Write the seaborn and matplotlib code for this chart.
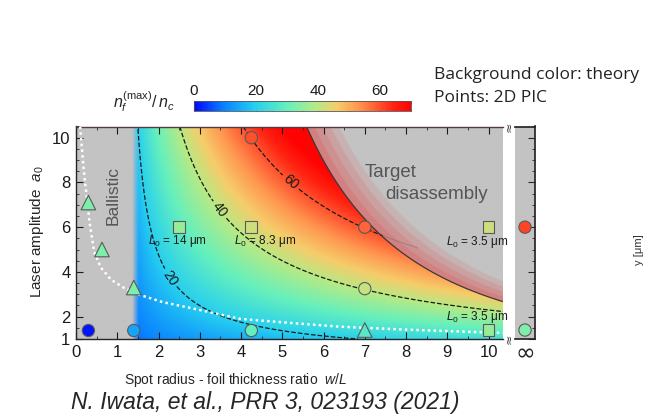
import numpy as np
import matplotlib
matplotlib.use("Agg")
import matplotlib.pyplot as plt
import seaborn as sns
from matplotlib.colors import LinearSegmentedColormap, Normalize, to_rgb
from matplotlib.cm import ScalarMappable
from matplotlib.ticker import MultipleLocator, FixedLocator

# ---- theory model for the background: n_f^max/n_c = A a0^alpha (w/L - x0)^beta + c
THEORY_A = 4.926
THEORY_ALPHA = 0.75
THEORY_BETA = 0.60
THEORY_X0 = 1.2
THEORY_C = 6.1
BALLISTIC_EDGE = 1.5          # w/L below which the foil is ballistic
DISASSEMBLY_K = 16.1          # (w/L) * a0^p above which the target disassembles
DISASSEMBLY_P = 0.45
CONTOUR_LEVELS = [20, 40, 60]
CONTOUR_LABEL_POS = [(2.5, 4.0), (3.5, 6.8), (5.2, 8.0)]

# ---- 2D PIC results (w/L, a0, n_f^max/n_c)
circle_wl = [0.3, 1.4, 4.25, 7.0, 7.0, 4.25]
circle_a0 = [1.38, 1.38, 1.38, 3.25, 6.0, 10.0]
circle_n = [1, 14, 30, 41, 58, 60]
triangle_wl = [0.3, 0.63, 1.4, 7.0]
triangle_a0 = [7.1, 5.0, 3.3, 1.4]
triangle_n = [33, 33, 33, 28]
square_wl = [2.5, 4.25, 10.0, 10.0]
square_a0 = [6.0, 6.0, 6.0, 1.4]
square_n = [36, 42, 42, 36]
inf_a0 = [6.0, 1.4]
inf_n = [61, 33]

# ---- white dotted boundary curve
dot_wl = [0.10, 0.19, 0.33, 0.44, 0.60, 0.85, 1.15, 1.55, 2.1, 2.77, 3.98, 5.19, 6.4, 8.0, 10.35]
dot_a0 = [10.5, 8.5, 6.2, 4.9, 4.2, 3.65, 3.3, 2.97, 2.65, 2.39, 1.9, 1.72, 1.55, 1.42, 1.27]

# ---- annotations
thickness_labels = [r"$L_0$ = 14 μm", r"$L_0$ = 8.3 μm", r"$L_0$ = 3.5 μm", r"$L_0$ = 3.5 μm"]
thickness_wl = [2.45, 4.58, 9.72, 9.72]
thickness_a0 = [5.4, 5.4, 5.35, 2.0]

XTICKS = list(range(0, 11))
YTICKS = [1, 2, 4, 6, 8, 10]
CBAR_TICKS = [0, 20, 40, 60]
N_MAX = 70

sns.set_theme(style="ticks")
plt.rcParams["font.family"] = ["Liberation Sans", "DejaVu Sans"]
plt.rcParams["mathtext.fontset"] = "custom"
plt.rcParams["mathtext.it"] = "Liberation Sans:italic"
plt.rcParams["mathtext.rm"] = "Liberation Sans"

cmap = LinearSegmentedColormap.from_list("theory", [
    (0.00, "#0008ff"), (0.14, "#0a84ff"), (0.28, "#26cff0"), (0.43, "#66f0bc"),
    (0.56, "#b4ea86"), (0.66, "#f6cc6a"), (0.76, "#ff9650"), (0.85, "#ff5630"),
    (0.92, "#ff2412"), (1.00, "#ff0202")])
norm = Normalize(0, N_MAX)
GREY = np.array(to_rgb("#c3c3c3"))


def theory(wl, a0):
    return THEORY_A * a0 ** THEORY_ALPHA * np.clip(wl - THEORY_X0, 0, None) ** THEORY_BETA + THEORY_C


fig = plt.figure(figsize=(6.49, 4.2), dpi=100)
W, H = 649, 420
ax = fig.add_axes([76 / W, 1 - 339 / H, (503 - 76) / W, (339 - 126.5) / H])
ax_inf = fig.add_axes([515 / W, 1 - 339 / H, 20 / W, (339 - 126.5) / H])
cax = fig.add_axes([194 / W, 1 - 111 / H, 217 / W, 10.3 / H])

XLIM = (0, 10.35)
YLIM = (1, 10.5)

# background field
xs = np.linspace(*XLIM, 800)
ys = np.linspace(*YLIM, 500)
X, Y = np.meshgrid(xs, ys)
N = theory(X, Y)
S = X * Y ** DISASSEMBLY_P
rgb = cmap(norm(N))[..., :3]
t = np.clip((X - 1.36) / 0.16, 0, 1)[..., None]
rgb = GREY * (1 - t) + rgb * t
u = S / DISASSEMBLY_K - 1
tint = np.clip(1 - u / 0.14, 0, 1)
tint = np.ceil(tint * 4) / 4 * 0.55
tint = np.where(u > 0, tint, 0)[..., None]
dis = (u > 0)[..., None]
pink = np.array(to_rgb("#e04a4a"))
rgb = np.where(dis, GREY * (1 - tint) + pink * tint, rgb)
ax.imshow(rgb, extent=(*XLIM, *YLIM), origin="lower", aspect="auto", interpolation="bilinear", zorder=0)

# contour lines of the theory
Nm = np.ma.masked_where((X < BALLISTIC_EDGE) | (S > DISASSEMBLY_K * 1.005), N)
cs = ax.contour(X, Y, Nm, levels=CONTOUR_LEVELS, colors="#1a1a1a", linestyles="--", linewidths=0.9, zorder=2)
ax.clabel(cs, fmt="%d", fontsize=10, inline=True, inline_spacing=3, manual=CONTOUR_LABEL_POS)
# faint continuation of the top level past the disassembly limit
Nf = np.ma.masked_where((S <= DISASSEMBLY_K) | (X > 8.3), N)
ax.contour(X, Y, Nf, levels=[CONTOUR_LEVELS[-1]], colors="#707070", linewidths=0.8, alpha=0.45, zorder=2)
ax.contour(X, Y, S, levels=[DISASSEMBLY_K], colors="#3a3a3a", linewidths=0.9, zorder=2)

# white dotted curve
sns.lineplot(x=dot_wl, y=dot_a0, sort=False, estimator=None, color="white",
             linewidth=1.8, linestyle=(0, (1, 1.3)), ax=ax, zorder=3)

# PIC points
common = dict(hue_norm=norm, palette=cmap, edgecolor="#5a5a5a", linewidth=0.8, legend=False, zorder=5)
sns.scatterplot(x=circle_wl, y=circle_a0, hue=circle_n, marker="o", s=78, ax=ax, **common)
sns.scatterplot(x=triangle_wl, y=triangle_a0, hue=triangle_n, marker="^", s=110, ax=ax, **common)
sns.scatterplot(x=square_wl, y=square_a0, hue=square_n, marker="s", s=72, ax=ax, **common)
sns.scatterplot(x=[0.5] * len(inf_a0), y=inf_a0, hue=inf_n, marker="o", s=78, ax=ax_inf, **common)

for lab, xw, ya in zip(thickness_labels, thickness_wl, thickness_a0):
    ax.text(xw, ya, lab, ha="center", va="center", fontsize=8.5, color="#1a1a1a", zorder=6)

ax.text(0.9, 7.4, "Ballistic", rotation=90, ha="center", va="center", fontsize=12.5,
        color="#555555", zorder=6)
ax.text(7.0, 8.45, "Target", ha="left", va="center", fontsize=13.5, color="#555555", zorder=6)
ax.text(7.49, 7.45, "disassembly", ha="left", va="center", fontsize=13.5, color="#555555", zorder=6)

# main axes styling
ax.set_xlim(*XLIM)
ax.set_ylim(*YLIM)
ax.xaxis.set_major_locator(FixedLocator(XTICKS))
ax.yaxis.set_major_locator(FixedLocator(YTICKS))
ax.xaxis.set_minor_locator(MultipleLocator(0.5))
ax.yaxis.set_minor_locator(MultipleLocator(0.5))
ax.tick_params(which="major", direction="in", length=5, width=0.8, top=True, right=False,
               labelsize=12, colors="#1a1a1a", pad=4)
ax.tick_params(which="minor", direction="in", length=2.5, width=0.6, top=True, right=False)
ax.spines["right"].set_visible(False)
ax.spines["top"].set_color("#5a3a3a")
for sp in ("left", "bottom", "top"):
    ax.spines[sp].set_linewidth(1.0)
ax.set_xlabel("")
ax.set_ylabel("")

# infinity panel
ax_inf.set_facecolor(GREY)
ax_inf.set_xlim(0, 1)
ax_inf.set_ylim(*YLIM)
ax_inf.set_xticks([0.5])
ax_inf.set_xticklabels(["∞"], fontsize=17, family=["DejaVu Sans"])
ax_inf.tick_params(axis="x", length=0, pad=2)
ax_inf.yaxis.set_major_locator(FixedLocator(YTICKS))
ax_inf.yaxis.set_minor_locator(MultipleLocator(0.5))
ax_inf.yaxis.tick_right()
ax_inf.tick_params(axis="y", which="major", direction="in", length=5, width=0.8, labelright=False)
ax_inf.tick_params(axis="y", which="minor", direction="in", length=2.5, width=0.6)
ax_inf.spines["left"].set_visible(False)
ax_inf.set_xlabel("")
ax_inf.set_ylabel("")

# break marks between the panels
for yy in (126.5, 339):
    fig.text(509 / W, 1 - yy / H, "≈", rotation=90, ha="center", va="center",
             fontsize=9, color="#444444", family=["DejaVu Sans"])

# colorbar
cb = fig.colorbar(ScalarMappable(norm=norm, cmap=cmap), cax=cax, orientation="horizontal")
cb.set_ticks(CBAR_TICKS)
cax.xaxis.set_ticks_position("top")
cax.xaxis.set_minor_locator(MultipleLocator(5))
cax.tick_params(which="major", direction="in", length=7.4, width=0.8, labelsize=11, pad=2,
                top=True, bottom=False, colors="#1a1a1a")
cax.tick_params(which="minor", direction="in", length=1.8, width=0.6, top=True, bottom=True)
cb.outline.set_linewidth(0.6)
cb.outline.set_edgecolor("#555555")
fig.text(175 / W, 1 - 102 / H, r"$n_f^{\mathrm{(max)}}/\,n_c$", ha="right", va="center", fontsize=11.5)

# axis labels and captions
fig.text(37 / W, 1 - 232 / H, r"Laser amplitude  $a_0$", rotation=90, ha="center", va="center",
         fontsize=11)
fig.text(236 / W, 1 - 380 / H, r"Spot radius - foil thickness ratio  $w/L$", ha="center", va="center",
         fontsize=10)
fig.text(265 / W, 1 - 402 / H, "N. Iwata, et al., PRR 3, 023193 (2021)", ha="center", va="center",
         fontsize=16.5, style="italic")
fig.text(434 / W, 1 - 75 / H, "Background color: theory", ha="left", va="center", fontsize=12.5,
         family=["Open Sans", "DejaVu Sans"], color="#222222")
fig.text(434 / W, 1 - 98 / H, "Points: 2D PIC", ha="left", va="center", fontsize=12.5,
         family=["Open Sans", "DejaVu Sans"], color="#222222")
fig.text(639 / W, 1 - 250 / H, "y [μm]", rotation=90, ha="center", va="center", fontsize=8,
         color="#333333")

fig.savefig("out.png", dpi=100)
